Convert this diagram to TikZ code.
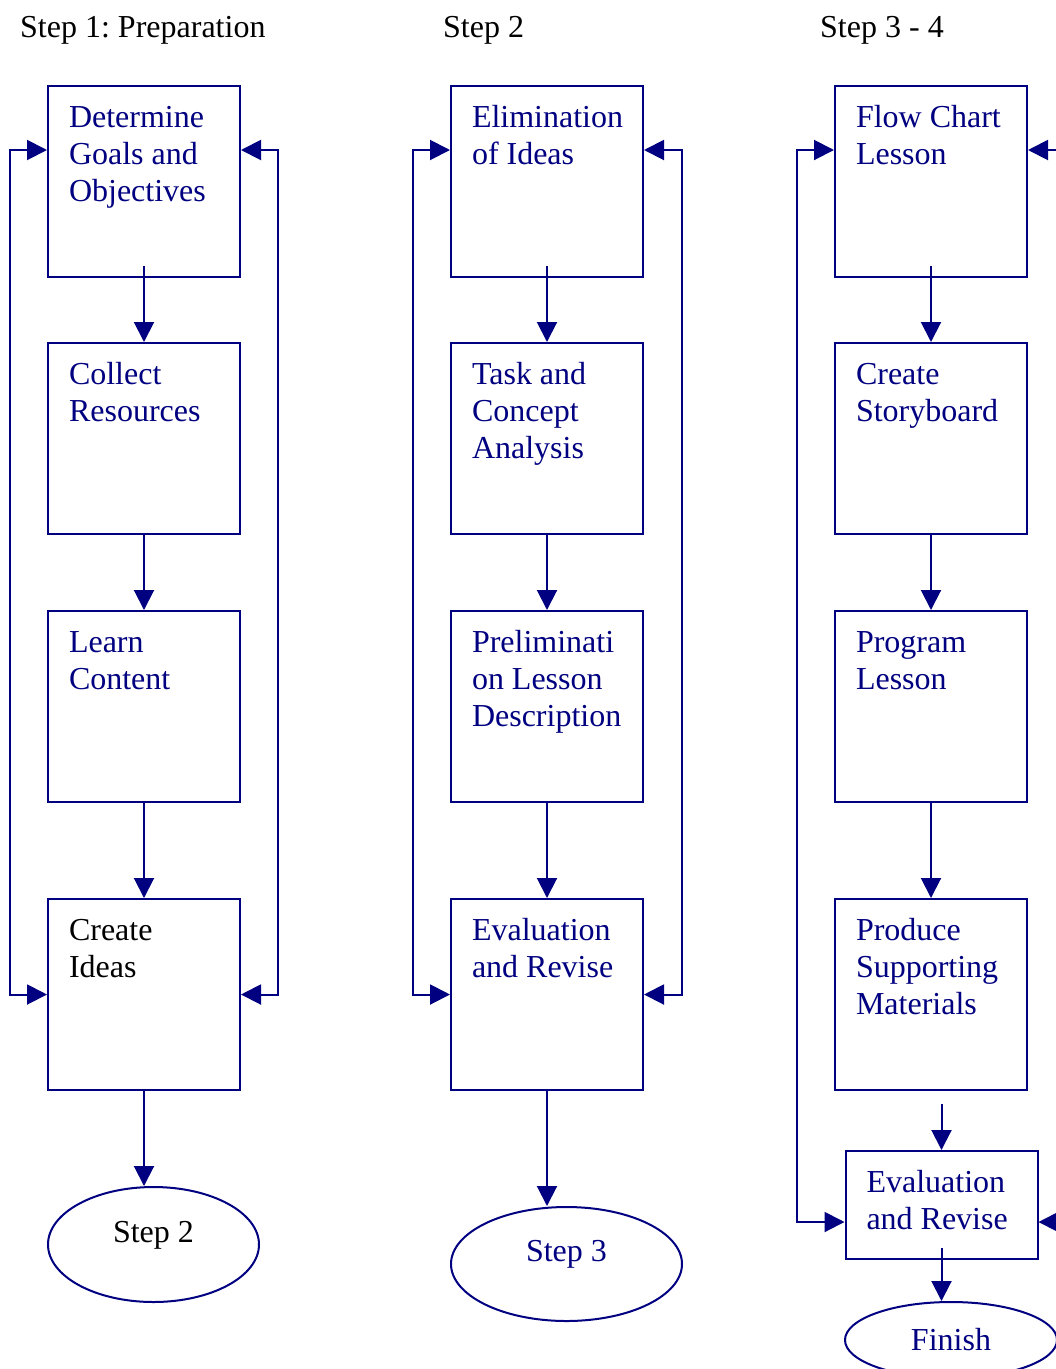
\documentclass[tikz,border=0pt]{standalone}
\usepackage{fontspec}
\setmainfont{Liberation Serif}
\usetikzlibrary{positioning}
\usetikzlibrary{shapes.geometric, arrows.meta}
\definecolor{navy}{RGB}{0,0,128}
\frenchspacing
\newcommand{\boxlines}[2][191pt]{\parbox[c][#1][t]{192pt}{\raggedright\leftskip=21pt\vspace*{16pt}\strut#2}}

\begin{document}
\begin{tikzpicture}[
  x=1pt, y=-1pt,
  font=\fontsize{32pt}{37pt}\selectfont,
  block/.style={rectangle, draw=navy, line width=2pt, minimum width=192pt, minimum height=191pt, inner sep=0pt, text=navy},
  term/.style={ellipse, draw=navy, line width=2pt, inner sep=0pt, text=navy},
  heading/.style={anchor=base west, inner sep=0pt},
  arrow/.style={-{Triangle[length=20pt, width=20pt]}, draw=navy, line width=2pt},
  feedback/.style={{Triangle[length=20pt, width=20pt]}-{Triangle[length=20pt, width=20pt]}, draw=navy, line width=2pt}
]
  \useasboundingbox (0,0) rectangle (1056,1369);
  \clip (0,0) rectangle (1056,1369);

  % titles
  \node[heading] (title1) at (20,37) {Step 1:\ Preparation};
  \node[heading] (title2) at (443,37) {Step 2};
  \node[heading] (title3) at (820,37) {Step 3 - 4};

  % step 1
  \node[block] (goals) at (144,181.5) {\boxlines{Determine\\Goals and\\Objectives}};
  \node[block, below=64pt of goals] (collect) {\boxlines{Collect\\Resources}};
  \node[block, below=75pt of collect] (learn) {\boxlines{Learn\\Content}};
  \node[block, below=95pt of learn, text=black] (ideas) {\boxlines{Create\\Ideas}};
  \node[term, below=95pt of ideas, xshift=9.5pt, minimum width=211pt, minimum height=115pt, text=black, text height=22pt, text depth=27pt] (next2) {Step 2};

  % step 2
  \node[block, right=209pt of goals] (elim) {\boxlines{Elimination\\of Ideas}};
  \node[block, below=64pt of elim] (task) {\boxlines{Task and\\Concept\\Analysis}};
  \node[block, below=75pt of task] (prelim) {\boxlines{Preliminati\\on Lesson\\Description}};
  \node[block, below=95pt of prelim] (eval2) {\boxlines{Evaluation\\and Revise}};
  \node[term, below=115pt of eval2, xshift=19.5pt, minimum width=231pt, minimum height=114pt, text height=22pt, text depth=27pt] (next3) {Step 3};

  % step 3 - 4
  \node[block, right=190pt of elim] (flow) {\boxlines{Flow Chart\\Lesson}};
  \node[block, below=64pt of flow] (story) {\boxlines{Create\\Storyboard}};
  \node[block, below=75pt of story] (program) {\boxlines{Program\\Lesson}};
  \node[block, below=95pt of program] (mats) {\boxlines{Produce\\Supporting\\Materials}};
  \node[block, below=59pt of mats, xshift=10.5pt, minimum height=108pt] (review) {\boxlines[108pt]{Evaluation\\and Revise}};
  \node[term, below=41pt of review, xshift=9.5pt, minimum width=212pt, minimum height=76pt] (finish) {Finish};
  \coordinate (gap) at ([xshift=10.5pt, yshift=-13pt]mats.south);

  % step 1 arrows
  \draw[arrow] ([yshift=12pt]goals.south) -- (collect);
  \draw[arrow] (collect) -- (learn);
  \draw[arrow] (learn) -- (ideas);
  \draw[arrow] (ideas) -- (ideas.south |- next2.north);
  \draw[feedback] ([yshift=31.5pt]goals.west) -- ++(-37,0) |- (ideas.west);
  \draw[feedback] ([yshift=31.5pt]goals.east) -- ++(37,0) |- (ideas.east);

  % step 2 arrows
  \draw[arrow] ([yshift=12pt]elim.south) -- (task);
  \draw[arrow] (task) -- (prelim);
  \draw[arrow] (prelim) -- (eval2);
  \draw[arrow] (eval2) -- (eval2.south |- next3.north);
  \draw[feedback] ([yshift=31.5pt]elim.west) -- ++(-37,0) |- (eval2.west);
  \draw[feedback] ([yshift=31.5pt]elim.east) -- ++(38,0) |- (eval2.east);

  % step 3 - 4 arrows
  \draw[arrow] ([yshift=12pt]flow.south) -- (story);
  \draw[arrow] (story) -- (program);
  \draw[arrow] (program) -- (mats);
  \draw[arrow] (gap) -- (review);
  \draw[arrow] ([yshift=12pt]review.south) -- (review.south |- finish.north);
  \draw[feedback] ([yshift=31.5pt]flow.west) -- ++(-37,0) |- ([yshift=-17pt]review.west);
  \draw[feedback] ([yshift=31.5pt]flow.east) -- ++(50,0) |- ([yshift=-17pt]review.east);
\end{tikzpicture}
\end{document}
